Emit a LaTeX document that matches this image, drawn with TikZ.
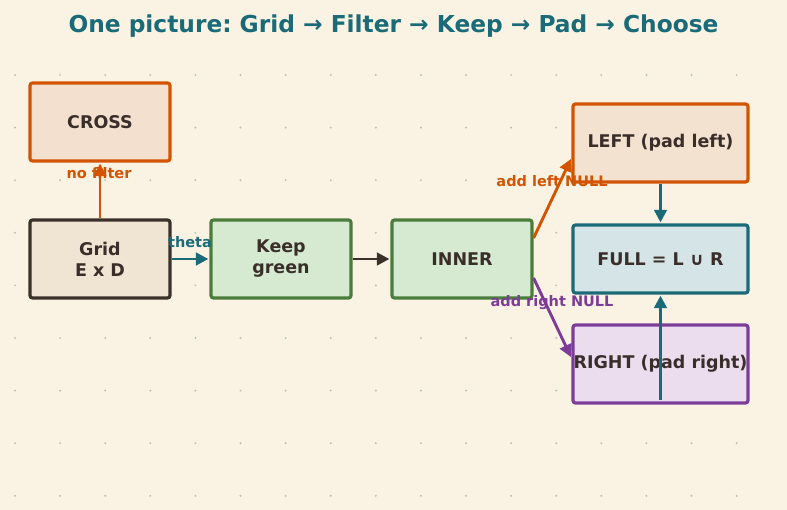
\documentclass[tikz,border=0pt]{standalone}
\usepackage{fontspec}
\setmainfont{DejaVu Sans}
\usetikzlibrary{arrows.meta}
\frenchspacing
\definecolor{bgc}{HTML}{FAF3E4}
\definecolor{dotc}{HTML}{C6BEAD}
\definecolor{orng}{HTML}{D35400}
\definecolor{teal}{HTML}{1A6A78}
\definecolor{grn}{HTML}{4A7C3B}
\definecolor{grnf}{HTML}{D6EAD2}
\definecolor{dark}{HTML}{3B302A}
\definecolor{gridf}{HTML}{EFE5D2}
\definecolor{crossf}{HTML}{F4E0CF}
\definecolor{leftf}{HTML}{F4E2D0}
\definecolor{fullf}{HTML}{D5E4E6}
\definecolor{purp}{HTML}{7D3C98}
\definecolor{purpf}{HTML}{ECDDEE}
\definecolor{txt}{HTML}{3A2E2A}
\tikzset{
  box/.style={draw, line width=3.2pt, rounded corners=2.5pt, minimum width=140pt, minimum height=78pt,
    align=center, text=txt, font=\fontsize{17.5}{21}\selectfont\bfseries, inner sep=0pt},
  wbox/.style={box, minimum width=175pt},
  lbl/.style={font=\fontsize{14.5}{17}\selectfont\bfseries, inner sep=0pt},
  arr/.style={line width=2.9pt, -{Triangle[length=12.5pt,width=12.5pt]}, shorten >=1pt},
}
\begin{document}
\begin{tikzpicture}[x=1pt,y=-1pt]
\fill[bgc] (0,0) rectangle (787,510);
\useasboundingbox (0,0) rectangle (787,510);
\foreach \i in {0,...,16} {
  \foreach \j in {0,...,8} {
    \fill[dotc] ({15+45.1*\i},{75+52.6*\j}) circle (1.1pt);
  }
}
\node[text=teal, font=\fontsize{23.3}{27}\selectfont\bfseries] (title) at (393.5,26.5) {One picture: Grid → Filter → Keep → Pad → Choose};

\node[box, draw=orng, fill=crossf] (cross) at (100,122) {CROSS};
\node[box, draw=dark, fill=gridf] (grid) at (100,259) {Grid\\E x D};
\node[box, draw=grn, fill=grnf] (keep) at (281,259) {Keep\\green};
\node[box, draw=grn, fill=grnf] (inner) at (462,259) {INNER};
\node[wbox, draw=orng, fill=leftf] (left) at (660.5,143) {LEFT (pad left)};
\node[wbox, draw=teal, fill=fullf, minimum height=68pt] (full) at (660.5,259) {FULL = L ∪ R};
\node[wbox, draw=purp, fill=purpf] (right) at (660.5,364) {RIGHT (pad right)};

\node[lbl, text=orng] (lnf) at (99,173.5) {no filter};
\node[lbl, text=teal] (lth) at (190,242.5) {theta};
\node[lbl, text=orng] (lln) at (552,181.5) {add left NULL};
\node[lbl, text=purp] (lrn) at (552,302.5) {add right NULL};

\draw[arr, orng] (grid.north) -- (cross.south);
\draw[arr, teal] (grid.east) -- (keep.west);
\draw[arr, dark] (keep.east) -- (inner.west);
\draw[arr, orng] ([yshift=21pt]inner.east) -- ([yshift=-15pt]left.west);
\draw[arr, purp] ([yshift=-19pt]inner.east) -- ([yshift=6pt]right.west);
\draw[arr, teal] (left.south) -- (full.north);
\draw[arr, teal] ([yshift=5pt]right.south) -- (full.south);
\end{tikzpicture}
\end{document}
